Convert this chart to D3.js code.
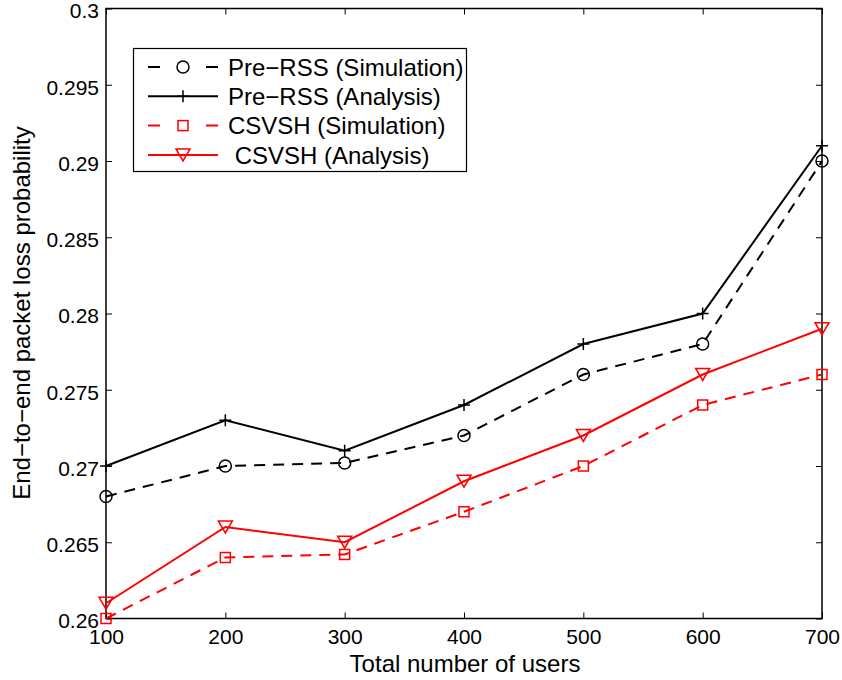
<!DOCTYPE html>
<html><head><meta charset="utf-8">
<script src="https://cdn.jsdelivr.net/npm/d3@7"></script>
<style>body{margin:0;background:#fff}svg text{font-family:"Liberation Sans",Arial,sans-serif}</style>
</head><body><svg id="c" width="842" height="680"></svg>
<script>
const users = [100, 200, 300, 400, 500, 600, 700];
const preRssSim = [0.268, 0.270, 0.2702, 0.272, 0.276, 0.278, 0.290];
const preRssAna = [0.270, 0.273, 0.271, 0.274, 0.278, 0.280, 0.291];
const csvshSim = [0.260, 0.264, 0.2642, 0.267, 0.270, 0.274, 0.276];
const csvshAna = [0.261, 0.266, 0.265, 0.269, 0.272, 0.276, 0.279];
const xTicks = [100, 200, 300, 400, 500, 600, 700];
const yTicks = [0.26, 0.265, 0.27, 0.275, 0.28, 0.285, 0.29, 0.295, 0.3];
const seriesNames = ["Pre\u2212RSS (Simulation)", "Pre\u2212RSS (Analysis)", "CSVSH (Simulation)", " CSVSH (Analysis)"];

const svg = d3.select("#c");
const L = 106, R = 822, T = 8.5, B = 618.5;
const x = d3.scaleLinear().domain([100, 700]).range([L, R]);
const y = d3.scaleLinear().domain([0.26, 0.3]).range([B, T]);

const series = [
  {vals: preRssSim, color: "#000", dash: "11,8", marker: "circle", name: seriesNames[0]},
  {vals: preRssAna, color: "#000", dash: null, marker: "plus", name: seriesNames[1]},
  {vals: csvshSim, color: "#ff0000", dash: "11,8", marker: "square", name: seriesNames[2]},
  {vals: csvshAna, color: "#ff0000", dash: null, marker: "tri", name: seriesNames[3]}
];

const fs = "21px";
const gx = svg.append("g").attr("transform", `translate(0,${B})`)
  .call(d3.axisBottom(x).tickValues(xTicks).tickFormat(d3.format("d")).tickSizeInner(-6).tickSizeOuter(0).tickPadding(11));
const gy = svg.append("g").attr("transform", `translate(${L},0)`)
  .call(d3.axisLeft(y).tickValues(yTicks).tickFormat(d => d3.format("")(+d.toFixed(3))).tickSizeInner(-6).tickSizeOuter(0).tickPadding(7));
const gxt = svg.append("g").attr("transform", `translate(0,${T})`)
  .call(d3.axisTop(x).tickValues(xTicks).tickFormat("").tickSizeInner(-6).tickSizeOuter(0));
const gyr = svg.append("g").attr("transform", `translate(${R},0)`)
  .call(d3.axisRight(y).tickValues(yTicks).tickFormat("").tickSizeInner(-6).tickSizeOuter(0));
[gx, gy, gxt, gyr].forEach(g => {
  g.select(".domain").remove();
  g.selectAll("line").attr("stroke", "#000").attr("stroke-width", 1);
  g.selectAll("text").attr("fill", "#000").style("font-size", fs).style("font-family", '"Liberation Sans",Arial,sans-serif');
});
gx.selectAll("text").attr("dy", "0.71em");
gy.selectAll("text").attr("dy", "0.45em");

svg.append("rect").attr("x", L).attr("y", T).attr("width", R - L).attr("height", B - T)
  .attr("fill", "none").attr("stroke", "#000").attr("stroke-width", 1.5);

svg.append("text").attr("x", 465).attr("y", 672).attr("text-anchor", "middle")
  .style("font-size", "24px").text("Total number of users");
svg.append("text").attr("transform", `translate(30,313) rotate(-90)`).attr("text-anchor", "middle")
  .style("font-size", "24px").text("End\u2212to\u2212end packet loss probability");

function drawMarker(g, type, cx, cy, color) {
  if (type === "circle") {
    g.append("circle").attr("cx", cx).attr("cy", cy).attr("r", 6).attr("fill", "none").attr("stroke", color).attr("stroke-width", 1.5);
  } else if (type === "plus") {
    g.append("path").attr("d", `M${cx - 6},${cy}H${cx + 6}M${cx},${cy - 6}V${cy + 6}`).attr("stroke", color).attr("stroke-width", 1.5);
  } else if (type === "square") {
    g.append("rect").attr("x", cx - 5).attr("y", cy - 5).attr("width", 10).attr("height", 10).attr("fill", "none").attr("stroke", color).attr("stroke-width", 1.5);
  } else if (type === "tri") {
    g.append("path").attr("d", `M${cx - 7},${cy - 6}H${cx + 7}L${cx},${cy + 6}Z`).attr("fill", "none").attr("stroke", color).attr("stroke-width", 1.5);
  }
}

const line = d3.line().x((d, i) => x(users[i])).y(d => y(d));
series.forEach(s => {
  const g = svg.append("g");
  g.append("path").attr("d", line(s.vals)).attr("fill", "none").attr("stroke", s.color)
    .attr("stroke-width", 2).attr("stroke-dasharray", s.dash);
  s.vals.forEach((v, i) => drawMarker(g, s.marker, x(users[i]), y(v), s.color));
});

const lg = svg.append("g");
lg.append("rect").attr("x", 133.5).attr("y", 48.5).attr("width", 333).attr("height", 123)
  .attr("fill", "#fff").attr("stroke", "#000").attr("stroke-width", 1.2);
series.forEach((s, i) => {
  const yy = 67 + i * 29.3;
  lg.append("line").attr("x1", 148).attr("x2", 218).attr("y1", yy).attr("y2", yy)
    .attr("stroke", s.color).attr("stroke-width", 2).attr("stroke-dasharray", s.dash ? "12,46,12" : null);
  drawMarker(lg, s.marker, 183, yy, s.color);
  lg.append("text").attr("x", 228).attr("y", yy).attr("dy", "0.36em").style("font-size", "24px")
    .attr("xml:space", "preserve").style("white-space", "pre").text(s.name);
});
</script></body></html>
